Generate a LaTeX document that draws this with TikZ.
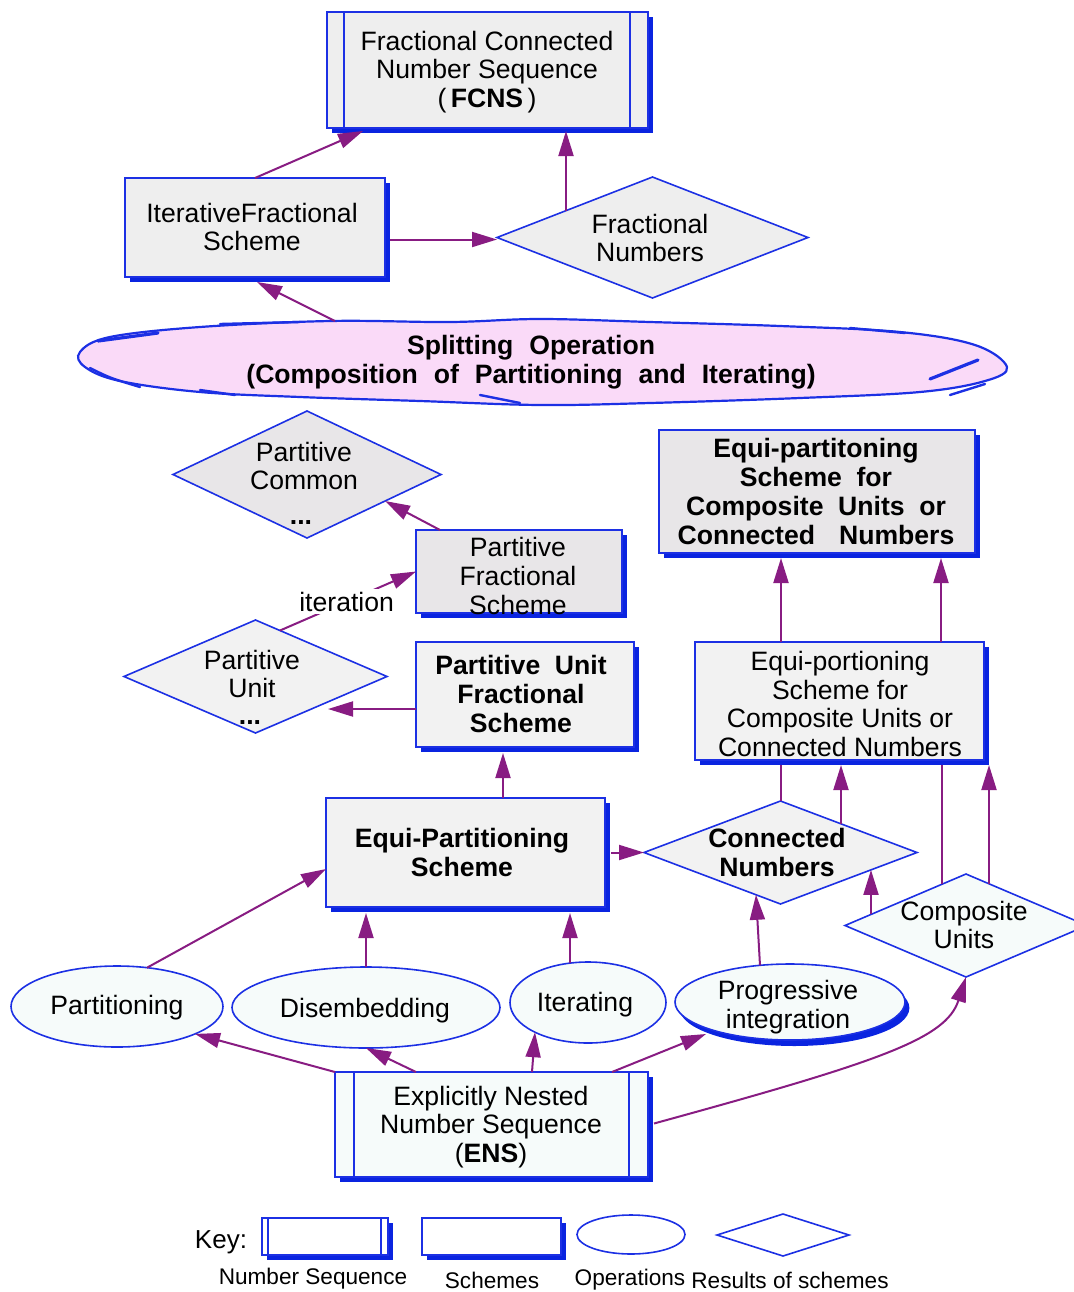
\documentclass[tikz,border=0pt]{standalone}
\usepackage{fontspec}
\setmainfont{Liberation Sans}
\usetikzlibrary{shapes.geometric,shadows,calc,arrows.meta}
\definecolor{bord}{RGB}{28,48,228}
\definecolor{shb}{RGB}{10,36,224}
\definecolor{arr}{RGB}{136,28,130}
\definecolor{gA}{RGB}{238,238,238}
\definecolor{gB}{RGB}{232,230,232}
\definecolor{gC}{RGB}{242,242,242}
\definecolor{cy}{RGB}{246,251,250}
\definecolor{pinkf}{RGB}{250,218,248}
\newcommand\ws{\hspace{0.55em}}
\newcommand\wss{\hspace{0.6em}}
\begin{document}
\begin{tikzpicture}[x=0.5pt,y=-0.5pt,
  shbase/.style={draw=bord, line width=0.8pt, inner sep=0pt, outer sep=0pt},
  box/.style={shbase, rectangle, general shadow={fill=shb, shadow xshift=2.4pt, shadow yshift=-2.4pt}},
  dia/.style={shbase, diamond},
  oval/.style={shbase, ellipse, fill=cy},
  txt/.style={align=center, font=\fontsize{13.3}{14.3}\selectfont, inner sep=0pt},
  btxt/.style={align=center, inner sep=0pt, font=\fontsize{13.3}{14.5}\selectfont\bfseries},
  conn/.style={draw=arr, line width=1pt, -{Triangle[length=12.5pt,width=7.5pt]}},
  plainc/.style={draw=arr, line width=1pt},
  inner/.style={draw=bord, line width=0.8pt},
  keytxt/.style={inner sep=0pt, font=\fontsize{11.3}{13}\selectfont},
]
\useasboundingbox (0,0) rectangle (1074,1292);

% ---------- FCNS ----------
\node[box, fill=gA, minimum width=160.5pt, minimum height=58pt] (fcns) at (487.5,70) {};
\draw[inner] ($(fcns.north west)+(17,0)$) -- ($(fcns.south west)+(17,0)$);
\draw[inner] ($(fcns.north east)+(-18,0)$) -- ($(fcns.south east)+(-18,0)$);
\node[txt] (fcnst) at (487,72) {Fractional Connected\\Number Sequence\\(\,\textbf{FCNS}\,)};

% ---------- Iterative Fractional Scheme ----------
\node[box, fill=gA, minimum width=130pt, minimum height=49.5pt] (ifs) at (255,227.5) {};
\node[txt] (ifst) at (252,227) {IterativeFractional\\Scheme};

% ---------- Fractional Numbers ----------
\node[dia, fill=gA, minimum width=155.5pt, minimum height=60.5pt] (fn) at (652.5,237.5) {};
\node[txt] (fnt) at (650,238) {Fractional\\Numbers};

% ---------- Splitting operation cloud ----------
\draw[draw=bord, line width=1.1pt, fill=pinkf] plot[smooth cycle, tension=0.6] coordinates {
 (80,352) (110,337) (200,327) (330,321) (450,322) (540,319) (650,322) (780,326)
 (900,332) (975,345) (1007,367) (985,381) (920,392) (800,398) (650,403) (540,405)
 (420,401) (300,397) (200,392) (120,381) (85,367)};
\draw[bord, line width=1.6pt, line cap=round] (98,341) -- (158,333);
\draw[bord, line width=1.2pt, line cap=round] (90,368) .. controls (110,378) .. (140,387);
\draw[bord, line width=1.2pt, line cap=round] (200,390) -- (235,395);
\draw[bord, line width=1.6pt, line cap=round] (930,379) -- (978,360);
\draw[bord, line width=1.2pt, line cap=round] (850,328) -- (905,333);
\draw[bord, line width=1.2pt, line cap=round] (480,395) -- (520,403);
\draw[bord, line width=1.2pt, line cap=round] (950,395) -- (985,384);
\draw[bord, line width=1.2pt, line cap=round] (220,324) -- (300,322);
\node[btxt] (split) at (531,362) {Splitting\wss Operation\\(Composition\wss of\wss Partitioning\wss and\wss Iterating)};

% ---------- Partitive Common ----------
\node[dia, fill=gB, minimum width=134pt, minimum height=63.5pt] (pc) at (307,474.5) {};
\node[txt] (pct) at (304,466) {Partitive\\Common};
\node[txt] (pcd) at (301,523) {\textbf{...}};

% ---------- Partitive Fractional Scheme ----------
\node[box, fill=gB, minimum width=103pt, minimum height=41.5pt] (pfs) at (519,571.5) {};
\node[txt] (pfst) at (518,576) {Partitive\\Fractional\\Scheme};

% ---------- Equi-partitoning (bold) ----------
\node[box, fill=gB, minimum width=158pt, minimum height=61.5pt] (eqptb) at (817,491.5) {};
\node[btxt] (eqptbt) at (816,491) {Equi-partitoning\\Scheme\ws for\\Composite\ws Units\ws or\\Connected\hspace{0.9em}Numbers};

% ---------- Partitive Unit ----------
\node[dia, fill=gC, minimum width=131.5pt, minimum height=56.5pt] (pu) at (255.5,676.5) {};
\node[txt] (put) at (252,674) {Partitive\\Unit};
\node[txt] (pud) at (250,723) {\textbf{...}};

% ---------- Partitive Unit Fractional Scheme ----------
\node[box, fill=gC, minimum width=109pt, minimum height=52.5pt] (pufs) at (525,694.5) {};
\node[btxt] (pufst) at (521,694) {Partitive\ws Unit\\Fractional\\Scheme};

% ---------- Equi-portioning ----------
\node[box, fill=gC, minimum width=144.5pt, minimum height=59pt] (eqpo) at (839.5,701) {};
\node[txt] (eqpot) at (840,704) {Equi-portioning\\Scheme for\\Composite Units or\\Connected Numbers};

% ---------- Equi-Partitioning Scheme ----------
\node[box, fill=gC, minimum width=139.5pt, minimum height=54.5pt] (eps) at (465.5,852.5) {};
\node[btxt] (epst) at (462,852) {Equi-Partitioning\\Scheme};

% ---------- Connected Numbers ----------
\node[dia, fill=gC, minimum width=136.5pt, minimum height=51.5pt] (cn) at (780.5,852.5) {};
\node[btxt] (cnt) at (777,852) {Connected\\Numbers};

% ---------- Composite Units ----------
\node[dia, fill=cy, minimum width=121pt, minimum height=51.5pt] (cu) at (966,925.5) {};
\node[txt] (cut) at (964,925) {Composite\\Units};

% ---------- Operations ----------
\node[oval, minimum width=106pt, minimum height=40.5pt] (part) at (117,1006.5) {};
\node[txt] (partt) at (117,1008) {Partitioning};
\node[oval, minimum width=134pt, minimum height=40.5pt] (dis) at (366,1007.5) {};
\node[txt] (dist) at (365,1010.5) {Disembedding};
\node[oval, minimum width=78pt, minimum height=40.5pt] (iter) at (588,1002.5) {};
\node[txt] (itert) at (585,1004.5) {Iterating};
\node[oval, minimum width=115pt, minimum height=38pt, general shadow={fill=shb, shadow xshift=2.2pt, shadow yshift=-3pt}] (pi) at (790,1002) {};
\node[txt] (pit) at (788,1007) {Progressive\\integration};

% ---------- ENS ----------
\node[box, fill=cy, minimum width=156.5pt, minimum height=52.5pt] (ens) at (491.5,1124.5) {};
\draw[inner] ($(ens.north west)+(19,0)$) -- ($(ens.south west)+(19,0)$);
\draw[inner] ($(ens.north east)+(-19,0)$) -- ($(ens.south east)+(-19,0)$);
\node[txt] (enst) at (491,1127) {Explicitly Nested\\Number Sequence\\(\textbf{ENS})};

% ---------- Connectors ----------
\draw[conn] (ifs.north) -- ($(fcns.south)+(-124.5,3)$);
\draw[conn] ($(fn.center)+(-86.5,-26.8)$) -- ($(fcns.south)+(78.5,3)$);
\draw[conn] ($(ifs.east)+(5,12)$) -- ($(fn.west)+(0,2)$);
\draw[conn] ($(split.center)+(-196,-41)$) -- ($(ifs.south)+(2,5)$);
\draw[conn] ($(pfs.north west)+(24,0)$) -- ($(pc.center)+(78,26.5)$);
\draw[conn] ($(pu.center)+(24.5,-46)$) -- node[txt, fill=white, inner sep=1.5pt, pos=0.49] (itlab) {iteration} (pfs.west);
\draw[conn] ($(pufs.west)+(0,14.5)$) -- ($(pu.center)+(72.5,32.5)$);
\draw[conn] ($(eps.north)+(37.5,0)$) -- ($(pufs.south)+(-22,6)$);
\draw[conn] ($(eps.east)+(6,0)$) -- (cn.west);
\draw[conn] ($(eqpo.north)+(-58.5,0)$) -- ($(eqptb.south)+(-36,5)$);
\draw[conn] ($(eqpo.north)+(101.5,0)$) -- ($(eqptb.south)+(124,5)$);
\draw[plainc] (cn.north) -- ($(eqpo.south)+(-59,5)$);
\draw[conn] ($(cn.center)+(60.5,-28.7)$) -- ($(eqpo.south)+(1.5,5)$);
\draw[plainc] ($(cu.center)+(-24,-41.3)$) -- ($(eqpo.south)+(102.5,5)$);
\draw[conn] ($(cu.center)+(23,-41.7)$) -- ($(eqpo.south)+(149.5,5)$);
\draw[conn] ($(cu.center)+(-95,-11.1)$) -- ($(cn.center)+(90.5,17.4)$);
\draw[conn] ($(pi.center)+(-30,-36.7)$) -- ($(cn.center)+(-24.5,42.3)$);
\draw[conn] ($(part.center)+(30,-38.8)$) -- ($(eps.west)+(0,16.5)$);
\draw[conn] (dis.north) -- ($(eps.south)+(-99.5,6)$);
\draw[conn] ($(iter.center)+(-18,-39.4)$) -- ($(eps.south)+(104.5,6)$);
\draw[conn] (ens.north west) -- ($(part.center)+(78,27.4)$);
\draw[conn] ($(ens.north west)+(81,0)$) -- (dis.south);
\draw[conn] ($(ens.north)+(40.5,0)$) -- ($(iter.center)+(-53,29.7)$);
\draw[conn] ($(ens.north)+(120.5,0)$) -- ($(pi.center)+(-84,32)$);
\draw[conn] ($(ens.east)+(6,-1)$) .. controls ($(ens.east)+(232,-63)$) and ($(cu.south)+(-20,62)$) .. (cu.south);

% ---------- Key ----------
\node[inner sep=0pt, font=\fontsize{13}{15}\selectfont] (keyl) at (221,1242) {Key:};
\node[box, fill=white, minimum width=63pt, minimum height=18.5pt] (kns) at (325,1236.5) {};
\draw[inner] ($(kns.north west)+(6,0)$) -- ($(kns.south west)+(6,0)$);
\draw[inner] ($(kns.north east)+(-7,0)$) -- ($(kns.south east)+(-7,0)$);
\node[box, fill=white, minimum width=69.5pt, minimum height=18.5pt] (ksch) at (491.5,1236.5) {};
\node[shbase, ellipse, fill=white, minimum width=54pt, minimum height=19.5pt] (kop) at (631,1234.5) {};
\node[dia, fill=white, minimum width=66pt, minimum height=21pt] (kres) at (783,1235) {};
\node[keytxt] (knst) at (313,1279) {Number Sequence};
\node[keytxt] (kscht) at (492,1280) {Schemes};
\node[keytxt] (kopt) at (630,1280) {Operations};
\node[keytxt] (krest) at (790,1280) {Results of schemes};
\end{tikzpicture}
\end{document}
